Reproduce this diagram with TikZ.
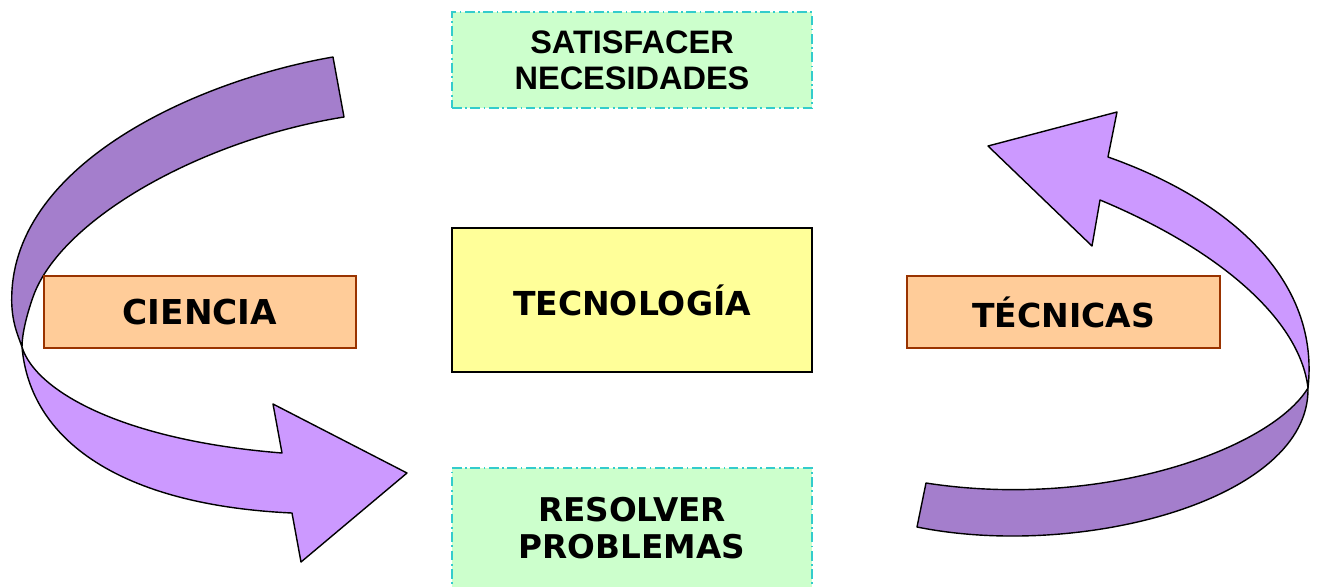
\documentclass[tikz,border=0pt]{standalone}
\usepackage{fontspec}
\setmainfont{DejaVu Sans}
\newfontfamily\arialfont{Liberation Sans}
\usetikzlibrary{positioning}

\definecolor{verdemeta}{HTML}{CCFFCC}
\definecolor{cianmeta}{HTML}{33CCCC}
\definecolor{amarillo}{HTML}{FFFF99}
\definecolor{naranja}{HTML}{FFCC99}
\definecolor{marron}{HTML}{993300}
\definecolor{lilaclaro}{HTML}{CC99FF}
\definecolor{lilaoscuro}{HTML}{A47ECC}

\begin{document}
\begin{tikzpicture}[x=0.02cm, y=-0.02cm,
    meta/.style={draw=cianmeta, line width=1pt, dash pattern=on 5.5pt off 2pt on 1pt off 2pt,
                 fill=verdemeta, minimum width=7.2cm, align=center, inner sep=0pt},
    campo/.style={draw=marron, line width=1pt, fill=naranja, minimum width=6.24cm,
                  minimum height=1.44cm, font=\bfseries\fontsize{18.8}{21}\selectfont},
    cinta/.style={draw=black, line width=0.8pt, line join=round}]
    \useasboundingbox (0,0) rectangle (1326,586);
    \clip (0,0) rectangle (1326,586);

    % flecha izquierda
    \filldraw[cinta, fill=lilaoscuro] (333,57) .. controls (200,80) and (20,160) .. (12,290)
        .. controls (10,320) and (18,335) .. (22,347)
        .. controls (22,335) and (26,317) .. (33,297)
        .. controls (60,220) and (200,140) .. (344,117) -- cycle;
    \filldraw[cinta, fill=lilaclaro] (22,347) .. controls (35,390) and (120,440) .. (282,453)
        -- (273,404) -- (407,473) -- (301,562) -- (292,513)
        .. controls (120,505) and (30,440) .. (22,347) -- cycle;

    % flecha derecha
    \filldraw[cinta, fill=lilaoscuro] (917,527) .. controls (1080,560) and (1310,500) .. (1308,388)
        .. controls (1270,450) and (1100,510) .. (926,483) -- cycle;
    \filldraw[cinta, fill=lilaclaro] (1308,388) .. controls (1320,280) and (1230,200) .. (1108,157)
        -- (1117,112) -- (988,146) -- (1092,246) -- (1100,200)
        .. controls (1220,250) and (1300,320) .. (1308,388) -- cycle;

    \node[meta, minimum height=1.92cm, font=\arialfont\bfseries\fontsize{18.5}{20.5}\selectfont] (satisfacer) at (632,60) {SATISFACER\\NECESIDADES};
    \node[draw, line width=1pt, fill=amarillo, minimum width=7.2cm, minimum height=2.88cm,
          font=\bfseries\fontsize{18.8}{21}\selectfont] (tecnologia) at (632,300) {TECNOLOGÍA};
    \node[meta, minimum height=2.4cm, font=\bfseries\fontsize{18.6}{21}\selectfont] (resolver) at (632,528) {RESOLVER\\PROBLEMAS};
    \node[campo, font=\bfseries\fontsize{19.5}{21}\selectfont] (ciencia) at (200,312) {CIENCIA};
    \node[campo, minimum width=6.26cm] (tecnicas) at (1063.5,312) {TÉCNICAS};
\end{tikzpicture}
\end{document}
